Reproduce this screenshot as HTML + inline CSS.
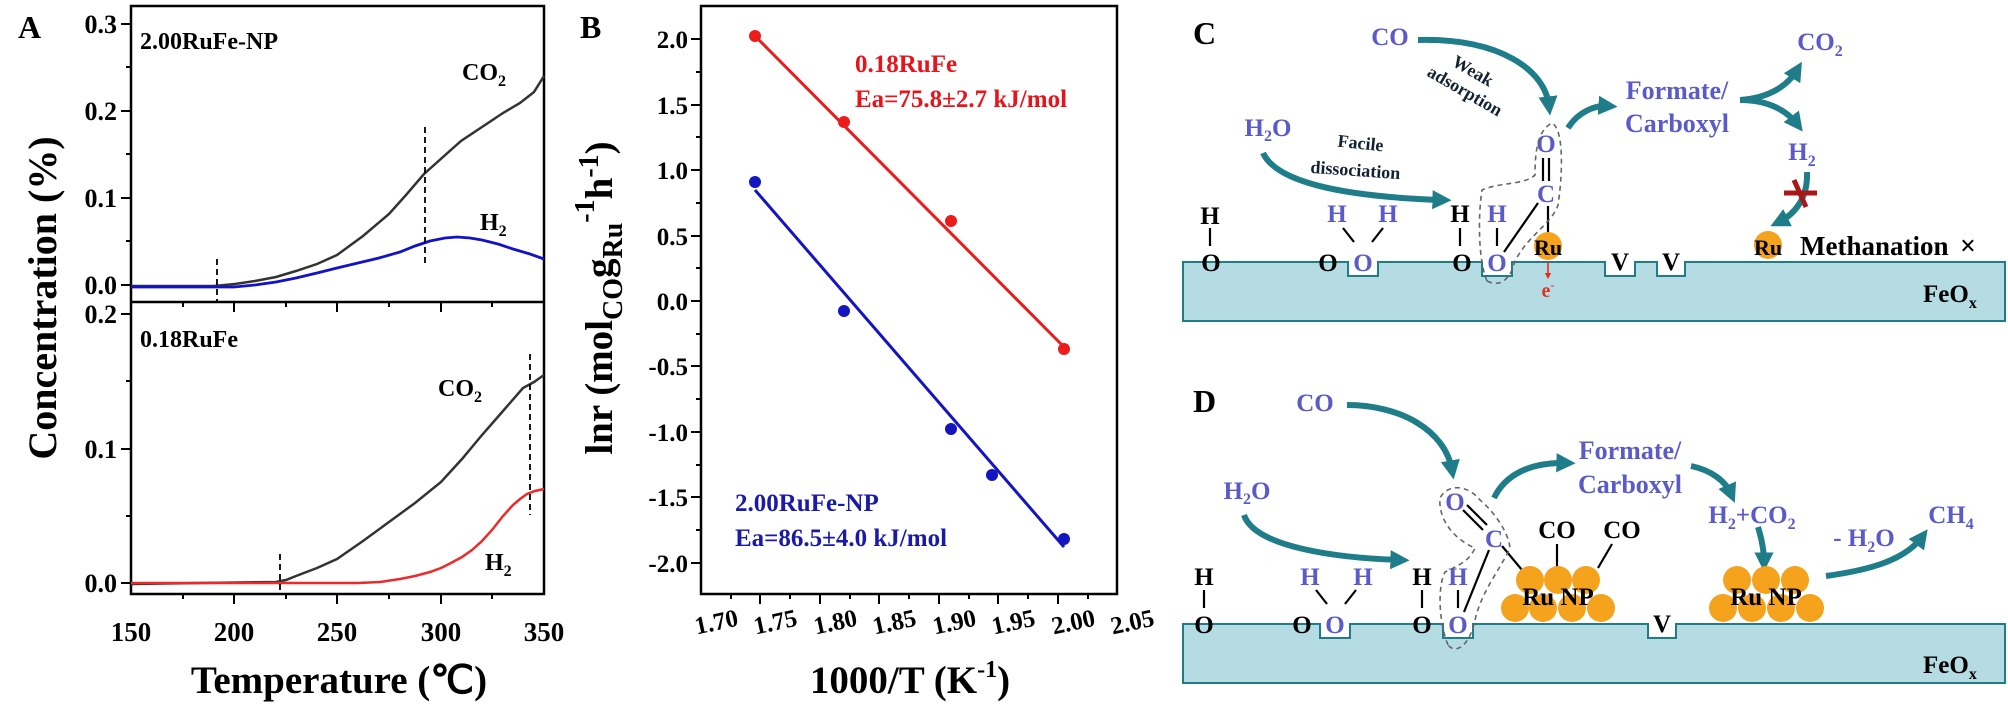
<!DOCTYPE html>
<html><head><meta charset="utf-8"><style>
html,body{margin:0;padding:0;background:#fff}
svg{display:block}
text{font-family:"Liberation Serif",serif;font-weight:bold}
</style></head><body>
<svg width="2008" height="709" viewBox="0 0 2008 709" xmlns="http://www.w3.org/2000/svg">
<defs>
<marker id="ah" viewBox="0 0 10 10" refX="5" refY="5" markerWidth="3.2" markerHeight="3.2" orient="auto"><path d="M0,0 L10,5 L0,10 z" fill="#1e7d88"/></marker>
<marker id="ahr" viewBox="0 0 10 10" refX="5" refY="5" markerWidth="4" markerHeight="4" orient="auto"><path d="M0,0 L10,5 L0,10 z" fill="#e0301e"/></marker>
</defs>

<!-- ===== Panel A ===== -->
<text x="18" y="38" font-size="32">A</text>
<rect x="131" y="6" width="413" height="588" fill="none" stroke="#000" stroke-width="2.5"/>
<line x1="131" y1="302" x2="544" y2="302" stroke="#000" stroke-width="2.5"/>
<g stroke="#000" stroke-width="2">
<line x1="121" y1="285" x2="131" y2="285"/><line x1="121" y1="198" x2="131" y2="198"/><line x1="121" y1="111" x2="131" y2="111"/><line x1="121" y1="24" x2="131" y2="24"/>
<line x1="126" y1="241" x2="131" y2="241"/><line x1="126" y1="154" x2="131" y2="154"/><line x1="126" y1="67" x2="131" y2="67"/>
<line x1="121" y1="583" x2="131" y2="583"/><line x1="121" y1="449" x2="131" y2="449"/><line x1="121" y1="314" x2="131" y2="314"/>
<line x1="126" y1="516" x2="131" y2="516"/><line x1="126" y1="381" x2="131" y2="381"/>
<line x1="234" y1="594" x2="234" y2="604"/><line x1="337" y1="594" x2="337" y2="604"/><line x1="441" y1="594" x2="441" y2="604"/>
<line x1="183" y1="594" x2="183" y2="599"/><line x1="286" y1="594" x2="286" y2="599"/><line x1="389" y1="594" x2="389" y2="599"/><line x1="492" y1="594" x2="492" y2="599"/>
<line x1="234" y1="302" x2="234" y2="312"/><line x1="337" y1="302" x2="337" y2="312"/><line x1="441" y1="302" x2="441" y2="312"/>
<line x1="183" y1="302" x2="183" y2="307"/><line x1="286" y1="302" x2="286" y2="307"/><line x1="389" y1="302" x2="389" y2="307"/><line x1="492" y1="302" x2="492" y2="307"/>
</g>
<g font-size="26" text-anchor="end">
<text x="117" y="294">0.0</text><text x="117" y="207">0.1</text><text x="117" y="120">0.2</text><text x="117" y="33">0.3</text>
<text x="117" y="592">0.0</text><text x="117" y="458">0.1</text><text x="117" y="323">0.2</text>
</g>
<g font-size="27" text-anchor="middle">
<text x="131" y="641">150</text><text x="234" y="641">200</text><text x="337" y="641">250</text><text x="441" y="641">300</text><text x="544" y="641">350</text>
</g>
<text x="339" y="693" font-size="39" text-anchor="middle">Temperature (℃)</text>
<text transform="translate(56,298) rotate(-90)" font-size="40" text-anchor="middle">Concentration (%)</text>
<text x="140" y="49" font-size="24">2.00RuFe-NP</text>
<text x="140" y="347" font-size="24">0.18RuFe</text>
<text x="462" y="80" font-size="24">CO<tspan font-size="16" dy="6">2</tspan></text>
<text x="480" y="230" font-size="24">H<tspan font-size="16" dy="6">2</tspan></text>
<text x="438" y="396" font-size="24">CO<tspan font-size="16" dy="6">2</tspan></text>
<text x="485" y="570" font-size="24">H<tspan font-size="16" dy="6">2</tspan></text>
<polyline fill="none" stroke="#333" stroke-width="2.5" points="131,286 190,286 214,286 235,284 255,281 276,277 296,271 317,264 337,255 363,236 389,214 406,195 424,174 443,157 461,141 482,127 503,113 520,103 534,92 544,76"/>
<polyline fill="none" stroke="#1212c8" stroke-width="2.8" points="131,287 234,287 255,285 276,282 296,278 317,273 337,268 358,263 379,258 400,252 415,246 430,241 445,238 457,237 470,238 482,240 498,244 513,249 530,254 544,259"/>
<polyline fill="none" stroke="#333" stroke-width="2.5" points="131,584 200,583 276,582 286,580 296,576 317,568 337,559 363,541 389,522 415,503 441,482 462,459 482,435 503,411 523,388 534,382 544,375"/>
<polyline fill="none" stroke="#ec2a2a" stroke-width="2.5" points="131,583 358,583 380,582 400,579 415,576 430,572 441,568 451,563 462,557 472,550 482,541 492,530 503,516 513,505 520,499 527,494 535,491 544,489"/>
<g stroke="#000" stroke-width="1.8" stroke-dasharray="6,4">
<line x1="217" y1="259" x2="217" y2="302"/><line x1="425" y1="127" x2="425" y2="266"/>
<line x1="280" y1="554" x2="280" y2="594"/><line x1="530" y1="354" x2="530" y2="515"/>
</g>

<!-- ===== Panel B ===== -->
<text x="580" y="38" font-size="32">B</text>
<rect x="701" y="6" width="416" height="588" fill="none" stroke="#000" stroke-width="2.5"/>
<g stroke="#000" stroke-width="2">
<line x1="691" y1="39" x2="701" y2="39"/><line x1="691" y1="105" x2="701" y2="105"/><line x1="691" y1="170" x2="701" y2="170"/><line x1="691" y1="236" x2="701" y2="236"/><line x1="691" y1="301" x2="701" y2="301"/><line x1="691" y1="366" x2="701" y2="366"/><line x1="691" y1="432" x2="701" y2="432"/><line x1="691" y1="497" x2="701" y2="497"/><line x1="691" y1="563" x2="701" y2="563"/>
<line x1="696" y1="72" x2="701" y2="72"/><line x1="696" y1="137" x2="701" y2="137"/><line x1="696" y1="203" x2="701" y2="203"/><line x1="696" y1="268" x2="701" y2="268"/><line x1="696" y1="334" x2="701" y2="334"/><line x1="696" y1="399" x2="701" y2="399"/><line x1="696" y1="465" x2="701" y2="465"/><line x1="696" y1="530" x2="701" y2="530"/>
<line x1="760" y1="594" x2="760" y2="604"/><line x1="820" y1="594" x2="820" y2="604"/><line x1="879" y1="594" x2="879" y2="604"/><line x1="939" y1="594" x2="939" y2="604"/><line x1="998" y1="594" x2="998" y2="604"/><line x1="1058" y1="594" x2="1058" y2="604"/>
<line x1="731" y1="594" x2="731" y2="599"/><line x1="790" y1="594" x2="790" y2="599"/><line x1="850" y1="594" x2="850" y2="599"/><line x1="909" y1="594" x2="909" y2="599"/><line x1="969" y1="594" x2="969" y2="599"/><line x1="1028" y1="594" x2="1028" y2="599"/><line x1="1088" y1="594" x2="1088" y2="599"/>
</g>
<g font-size="25" text-anchor="end">
<text x="688" y="48">2.0</text><text x="688" y="114">1.5</text><text x="688" y="179">1.0</text><text x="688" y="245">0.5</text><text x="688" y="310">0.0</text><text x="688" y="375">-0.5</text><text x="688" y="441">-1.0</text><text x="688" y="506">-1.5</text><text x="688" y="572">-2.0</text>
</g>
<g font-size="25" text-anchor="middle">
<text transform="translate(718,630) rotate(-12)">1.70</text>
<text transform="translate(777,630) rotate(-12)">1.75</text>
<text transform="translate(837,630) rotate(-12)">1.80</text>
<text transform="translate(896,630) rotate(-12)">1.85</text>
<text transform="translate(956,630) rotate(-12)">1.90</text>
<text transform="translate(1015,630) rotate(-12)">1.95</text>
<text transform="translate(1075,630) rotate(-12)">2.00</text>
<text transform="translate(1134,630) rotate(-12)">2.05</text>
</g>
<text x="910" y="693" font-size="39" text-anchor="middle">1000/T (K<tspan font-size="24" dy="-16">-1</tspan><tspan dy="16">)</tspan></text>
<text transform="translate(612,298) rotate(-90)" font-size="39" text-anchor="middle">lnr (mol<tspan font-size="28" dy="10">CO</tspan><tspan dy="-10">g</tspan><tspan font-size="28" dy="10">Ru</tspan><tspan font-size="28" dy="-28">-1</tspan><tspan dy="18">h</tspan><tspan font-size="28" dy="-14">-1</tspan><tspan dy="14">)</tspan></text>
<line x1="755" y1="36" x2="1064" y2="347" stroke="#ec1c1c" stroke-width="3"/>
<line x1="755" y1="190" x2="1064" y2="547" stroke="#1414c0" stroke-width="3"/>
<g fill="#ec1c1c"><circle cx="755" cy="36" r="6"/><circle cx="844" cy="122" r="6"/><circle cx="951" cy="221" r="6"/><circle cx="1064" cy="349" r="6"/></g>
<g fill="#1414c0"><circle cx="755" cy="182" r="6"/><circle cx="844" cy="311" r="6"/><circle cx="951" cy="429" r="6"/><circle cx="992" cy="475" r="6"/><circle cx="1064" cy="539" r="6"/></g>
<text x="855" y="72" font-size="25" fill="#e8141c">0.18RuFe</text>
<text x="855" y="107" font-size="25" fill="#e8141c">Ea=75.8±2.7 kJ/mol</text>
<text x="735" y="511" font-size="25" fill="#1a1aa8">2.00RuFe-NP</text>
<text x="735" y="546" font-size="25" fill="#1a1aa8">Ea=86.5±4.0 kJ/mol</text>

<!-- ===== Panel C ===== -->
<text x="1193" y="44" font-size="32">C</text>
<path d="M1183,262 H1348 V276 H1378 V262 H1482 V276 H1512 V262 H1605 V276 H1635 V262 H1657 V276 H1685 V262 H2005 V321 H1183 Z" fill="#b5dce3" stroke="#1e7d88" stroke-width="2"/>
<g fill="none" stroke="#1e7d88" stroke-width="6" marker-end="url(#ah)">
<path d="M1418,40 C1500,38 1545,70 1549,106"/>
<path d="M1263,153 C1280,190 1380,198 1442,200"/>
<path d="M1568,128 C1578,112 1595,105 1608,106"/>
<path d="M1740,100 C1770,98 1788,85 1797,70"/>
<path d="M1740,100 C1770,100 1788,112 1797,124"/>
<path d="M1807,172 C1808,198 1795,214 1779,222"/>
</g>
<g fill="#5a5ac8" font-size="25" text-anchor="middle">
<text x="1390" y="45">CO</text>
<text x="1268" y="136">H<tspan font-size="16" dy="5">2</tspan><tspan dy="-5">O</tspan></text>
<text x="1677" y="99" font-size="26">Formate/</text>
<text x="1677" y="132" font-size="26">Carboxyl</text>
<text x="1820" y="50">CO<tspan font-size="16" dy="6">2</tspan></text>
<text x="1802" y="160">H<tspan font-size="16" dy="6">2</tspan></text>
<text x="1337" y="222">H</text><text x="1388" y="222">H</text>
<text x="1363" y="271">O</text>
<text x="1497" y="222">H</text><text x="1497" y="271">O</text>
<text x="1546" y="152">O</text><text x="1546" y="202">C</text>
</g>
<text transform="translate(1470,76) rotate(30)" font-size="18" fill="#123" text-anchor="middle">Weak</text>
<text transform="translate(1462,96) rotate(30)" font-size="18" fill="#123" text-anchor="middle">adsorption</text>
<text transform="translate(1360,149) rotate(6)" font-size="18" fill="#123" text-anchor="middle">Facile</text>
<text transform="translate(1355,176) rotate(4)" font-size="18" fill="#123" text-anchor="middle">dissociation</text>
<g font-size="25" text-anchor="middle" fill="#000">
<text x="1210" y="224">H</text><text x="1211" y="271">O</text>
<text x="1328" y="271">O</text>
<text x="1460" y="222">H</text><text x="1462" y="271">O</text>
<text x="1620" y="270">V</text><text x="1671" y="270">V</text>
</g>
<g stroke="#000" stroke-width="2.2">
<line x1="1210" y1="228" x2="1210" y2="246"/>
<line x1="1343" y1="228" x2="1354" y2="242"/><line x1="1383" y1="228" x2="1372" y2="242"/>
<line x1="1460" y1="228" x2="1460" y2="246"/><line x1="1497" y1="228" x2="1497" y2="246"/>
<line x1="1504" y1="252" x2="1538" y2="203"/>
<line x1="1543" y1="158" x2="1543" y2="181"/><line x1="1549" y1="158" x2="1549" y2="181"/>
<line x1="1548" y1="206" x2="1548" y2="232"/>
</g>
<path d="M1487,281 C1478,260 1478,215 1482,190 C1500,182 1525,185 1535,175 C1535,150 1538,130 1552,123 C1565,130 1562,180 1558,205 C1552,225 1520,240 1512,270 C1505,285 1495,285 1487,281 Z" fill="none" stroke="#666" stroke-width="1.6" stroke-dasharray="5,4"/>
<circle cx="1548" cy="246" r="14" fill="#f5a21c"/>
<text x="1548" y="255" font-size="22" text-anchor="middle">Ru</text>
<line x1="1548" y1="262" x2="1548" y2="276" stroke="#e0301e" stroke-width="1.6" marker-end="url(#ahr)"/>
<text x="1548" y="297" font-size="20" fill="#e0301e" text-anchor="middle">e<tspan font-size="12" dy="-8">-</tspan></text>
<circle cx="1768" cy="245" r="14" fill="#f5a21c"/>
<text x="1768" y="255" font-size="22" text-anchor="middle">Ru</text>
<text x="1800" y="255" font-size="27">Methanation</text>
<text x="1960" y="255" font-size="28" font-weight="normal">×</text>
<g stroke="#a81818" stroke-width="5"><line x1="1784" y1="193" x2="1817" y2="193"/><line x1="1794" y1="180" x2="1806" y2="207"/></g>
<text x="1923" y="302" font-size="25">FeO<tspan font-size="16" dy="6">x</tspan></text>

<!-- ===== Panel D ===== -->
<text x="1193" y="412" font-size="32">D</text>
<path d="M1183,624 H1320 V638 H1350 V624 H1443 V638 H1473 V624 H1648 V638 H1676 V624 H2005 V683 H1183 Z" fill="#b5dce3" stroke="#1e7d88" stroke-width="2"/>
<g fill="none" stroke="#1e7d88" stroke-width="6" marker-end="url(#ah)">
<path d="M1347,405 C1400,405 1445,430 1452,470"/>
<path d="M1244,515 C1255,548 1340,558 1400,560"/>
<path d="M1494,498 C1505,475 1530,462 1566,463"/>
<path d="M1691,466 C1710,470 1725,480 1731,494"/>
<path d="M1758,527 C1762,540 1764,550 1764,562"/>
<path d="M1826,576 C1870,570 1905,560 1922,537"/>
</g>
<g fill="#5a5ac8" font-size="25" text-anchor="middle">
<text x="1315" y="411">CO</text>
<text x="1247" y="499">H<tspan font-size="16" dy="5">2</tspan><tspan dy="-5">O</tspan></text>
<text x="1630" y="459" font-size="26">Formate/</text>
<text x="1630" y="493" font-size="26">Carboxyl</text>
<text x="1752" y="523">H<tspan font-size="16" dy="6">2</tspan><tspan dy="-6">+CO</tspan><tspan font-size="16" dy="6">2</tspan></text>
<text x="1864" y="546">- H<tspan font-size="16" dy="6">2</tspan><tspan dy="-6">O</tspan></text>
<text x="1951" y="523">CH<tspan font-size="16" dy="6">4</tspan></text>
<text x="1310" y="585">H</text><text x="1363" y="585">H</text><text x="1335" y="633">O</text>
<text x="1458" y="585">H</text><text x="1458" y="633">O</text>
<text x="1455" y="510">O</text><text x="1494" y="547">C</text>
</g>
<g font-size="25" text-anchor="middle" fill="#000">
<text x="1204" y="585">H</text><text x="1204" y="633">O</text>
<text x="1302" y="633">O</text>
<text x="1422" y="585">H</text><text x="1422" y="633">O</text>
<text x="1662" y="632">V</text>
<text x="1557" y="538">CO</text><text x="1622" y="538">CO</text>
</g>
<g stroke="#000" stroke-width="2.2">
<line x1="1204" y1="590" x2="1204" y2="608"/>
<line x1="1316" y1="590" x2="1327" y2="604"/><line x1="1356" y1="590" x2="1345" y2="604"/>
<line x1="1422" y1="590" x2="1422" y2="608"/><line x1="1458" y1="590" x2="1458" y2="608"/>
<line x1="1464" y1="612" x2="1489" y2="550"/>
<line x1="1463" y1="510" x2="1483" y2="530"/><line x1="1467" y1="505" x2="1487" y2="525"/>
<line x1="1502" y1="546" x2="1522" y2="570"/>
<line x1="1557" y1="544" x2="1557" y2="568"/><line x1="1612" y1="544" x2="1598" y2="568"/>
</g>
<path d="M1448,645 C1438,620 1438,585 1445,572 C1460,565 1470,560 1475,548 C1455,540 1438,520 1440,498 C1448,483 1468,485 1480,500 C1492,510 1508,530 1510,548 C1500,570 1482,590 1475,620 C1470,645 1456,655 1448,645 Z" fill="none" stroke="#666" stroke-width="1.6" stroke-dasharray="5,4"/>
<g fill="#f5a21c">
<circle cx="1530" cy="580" r="14"/><circle cx="1558" cy="580" r="14"/><circle cx="1586" cy="580" r="14"/>
<circle cx="1515" cy="608" r="14"/><circle cx="1543" cy="608" r="14"/><circle cx="1572" cy="608" r="14"/><circle cx="1601" cy="608" r="14"/>
<circle cx="1737" cy="580" r="14"/><circle cx="1766" cy="580" r="14"/><circle cx="1795" cy="580" r="14"/>
<circle cx="1723" cy="608" r="14"/><circle cx="1752" cy="608" r="14"/><circle cx="1781" cy="608" r="14"/><circle cx="1810" cy="608" r="14"/>
</g>
<text x="1558" y="605" font-size="25" text-anchor="middle">Ru NP</text>
<text x="1766" y="605" font-size="25" text-anchor="middle">Ru NP</text>
<text x="1923" y="673" font-size="25">FeO<tspan font-size="16" dy="6">x</tspan></text>
</svg>
</body></html>
